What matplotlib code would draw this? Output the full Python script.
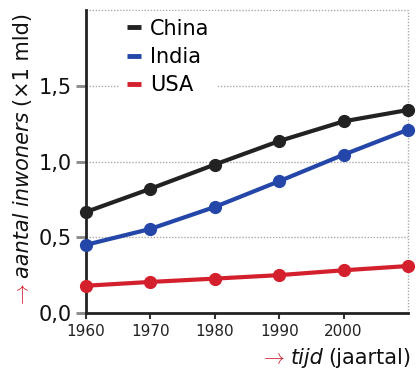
import matplotlib
matplotlib.use("Agg")
import matplotlib.pyplot as plt
from matplotlib.transforms import IdentityTransform

years = [1960, 1970, 1980, 1990, 2000, 2010]
china = [0.667, 0.82, 0.98, 1.135, 1.265, 1.34]
india = [0.45, 0.555, 0.70, 0.87, 1.045, 1.21]
usa = [0.18, 0.205, 0.227, 0.25, 0.282, 0.31]
series_names = ["China", "India", "USA"]
series_colors = ["#222222", "#2346a8", "#d41f2c"]
xtick_labels = ["1960", "1970", "1980", "1990", "2000"]
ytick_vals = [0.0, 0.5, 1.0, 1.5]
ytick_labels = ["0,0", "0,5", "1,0", "1,5"]

W, H = 416, 371
fig = plt.figure(figsize=(W / 100, H / 100), dpi=100)
ax = fig.add_axes([86 / W, (H - 313) / H, (408 - 86) / W, (313 - 10) / H])

for name, vals, col in zip(series_names, [china, india, usa], series_colors):
    ax.plot(years, vals, color=col, lw=3.0, marker="o", ms=8.5, label=name,
            solid_capstyle="round", zorder=3, clip_on=False)

ax.set_xlim(1960, 2010)
ax.set_ylim(0, 2.0)
ax.set_xticks([int(t) for t in xtick_labels])
ax.set_xticklabels(xtick_labels, fontsize=11, color="#222222")
ax.set_yticks(ytick_vals)
ax.set_yticklabels(ytick_labels, fontsize=15, color="#111111")
ax.tick_params(axis="y", length=7, width=2, color="#888888", pad=3)
ax.tick_params(axis="x", length=4, width=1.5, color="#333333", pad=4)

dot = (0, (1, 1.2))
for y in ytick_vals[1:]:
    ax.axhline(y, color="#aaaaaa", lw=1, ls=dot, zorder=1)
ax.axhline(2.0, color="#aaaaaa", lw=1, ls=dot, zorder=1, clip_on=False)
ax.axvline(2010, color="#aaaaaa", lw=1, ls=dot, zorder=1, clip_on=False)

for s in ["left", "bottom"]:
    ax.spines[s].set_color("#222222")
    ax.spines[s].set_linewidth(2)
for s in ["top", "right"]:
    ax.spines[s].set_visible(False)

leg = ax.legend(loc="upper left", bbox_to_anchor=(0.073, 1.03), fontsize=15,
                handlelength=0.65, handletextpad=0.45, labelspacing=0.4,
                frameon=True, fancybox=False, borderpad=0.35)
leg.get_frame().set_facecolor("white")
leg.get_frame().set_edgecolor("none")
leg.get_frame().set_alpha(1)
for h in leg.legend_handles:
    h.set_marker("")
    h.set_linewidth(3.5)
    h.set_solid_capstyle("butt")

red = "#d42030"


def rich_text(pieces, x, y, rotation, gap):
    fig.canvas.draw()
    r = fig.canvas.get_renderer()
    texts = []
    for s, props in pieces:
        t = fig.text(0, 0, s, transform=IdentityTransform(), rotation=rotation,
                     rotation_mode="anchor", ha="left", va="baseline", **props)
        texts.append(t)
    pos = 0
    for t in texts:
        bb = t.get_window_extent(r)
        L = bb.width if rotation == 0 else bb.height
        if rotation == 0:
            t.set_position((x + pos, y))
        else:
            t.set_position((x, y + pos))
        pos += L + gap
    return texts


fs = 15
arrow = dict(color=red, fontsize=fs, math_fontfamily="cm")
rich_text([(r"$\rightarrow$", arrow),
           ("tijd", dict(color="#111111", fontsize=fs, style="italic")),
           ("(jaartal)", dict(color="#111111", fontsize=fs))],
          260, 7, 0, 5)

rich_text([(r"$\rightarrow$", arrow),
           ("aantal inwoners", dict(color="#111111", fontsize=fs, style="italic")),
           ("(×1 mld)", dict(color="#111111", fontsize=fs))],
          29, 63, 90, 5)

fig.savefig("out.png", dpi=100)
